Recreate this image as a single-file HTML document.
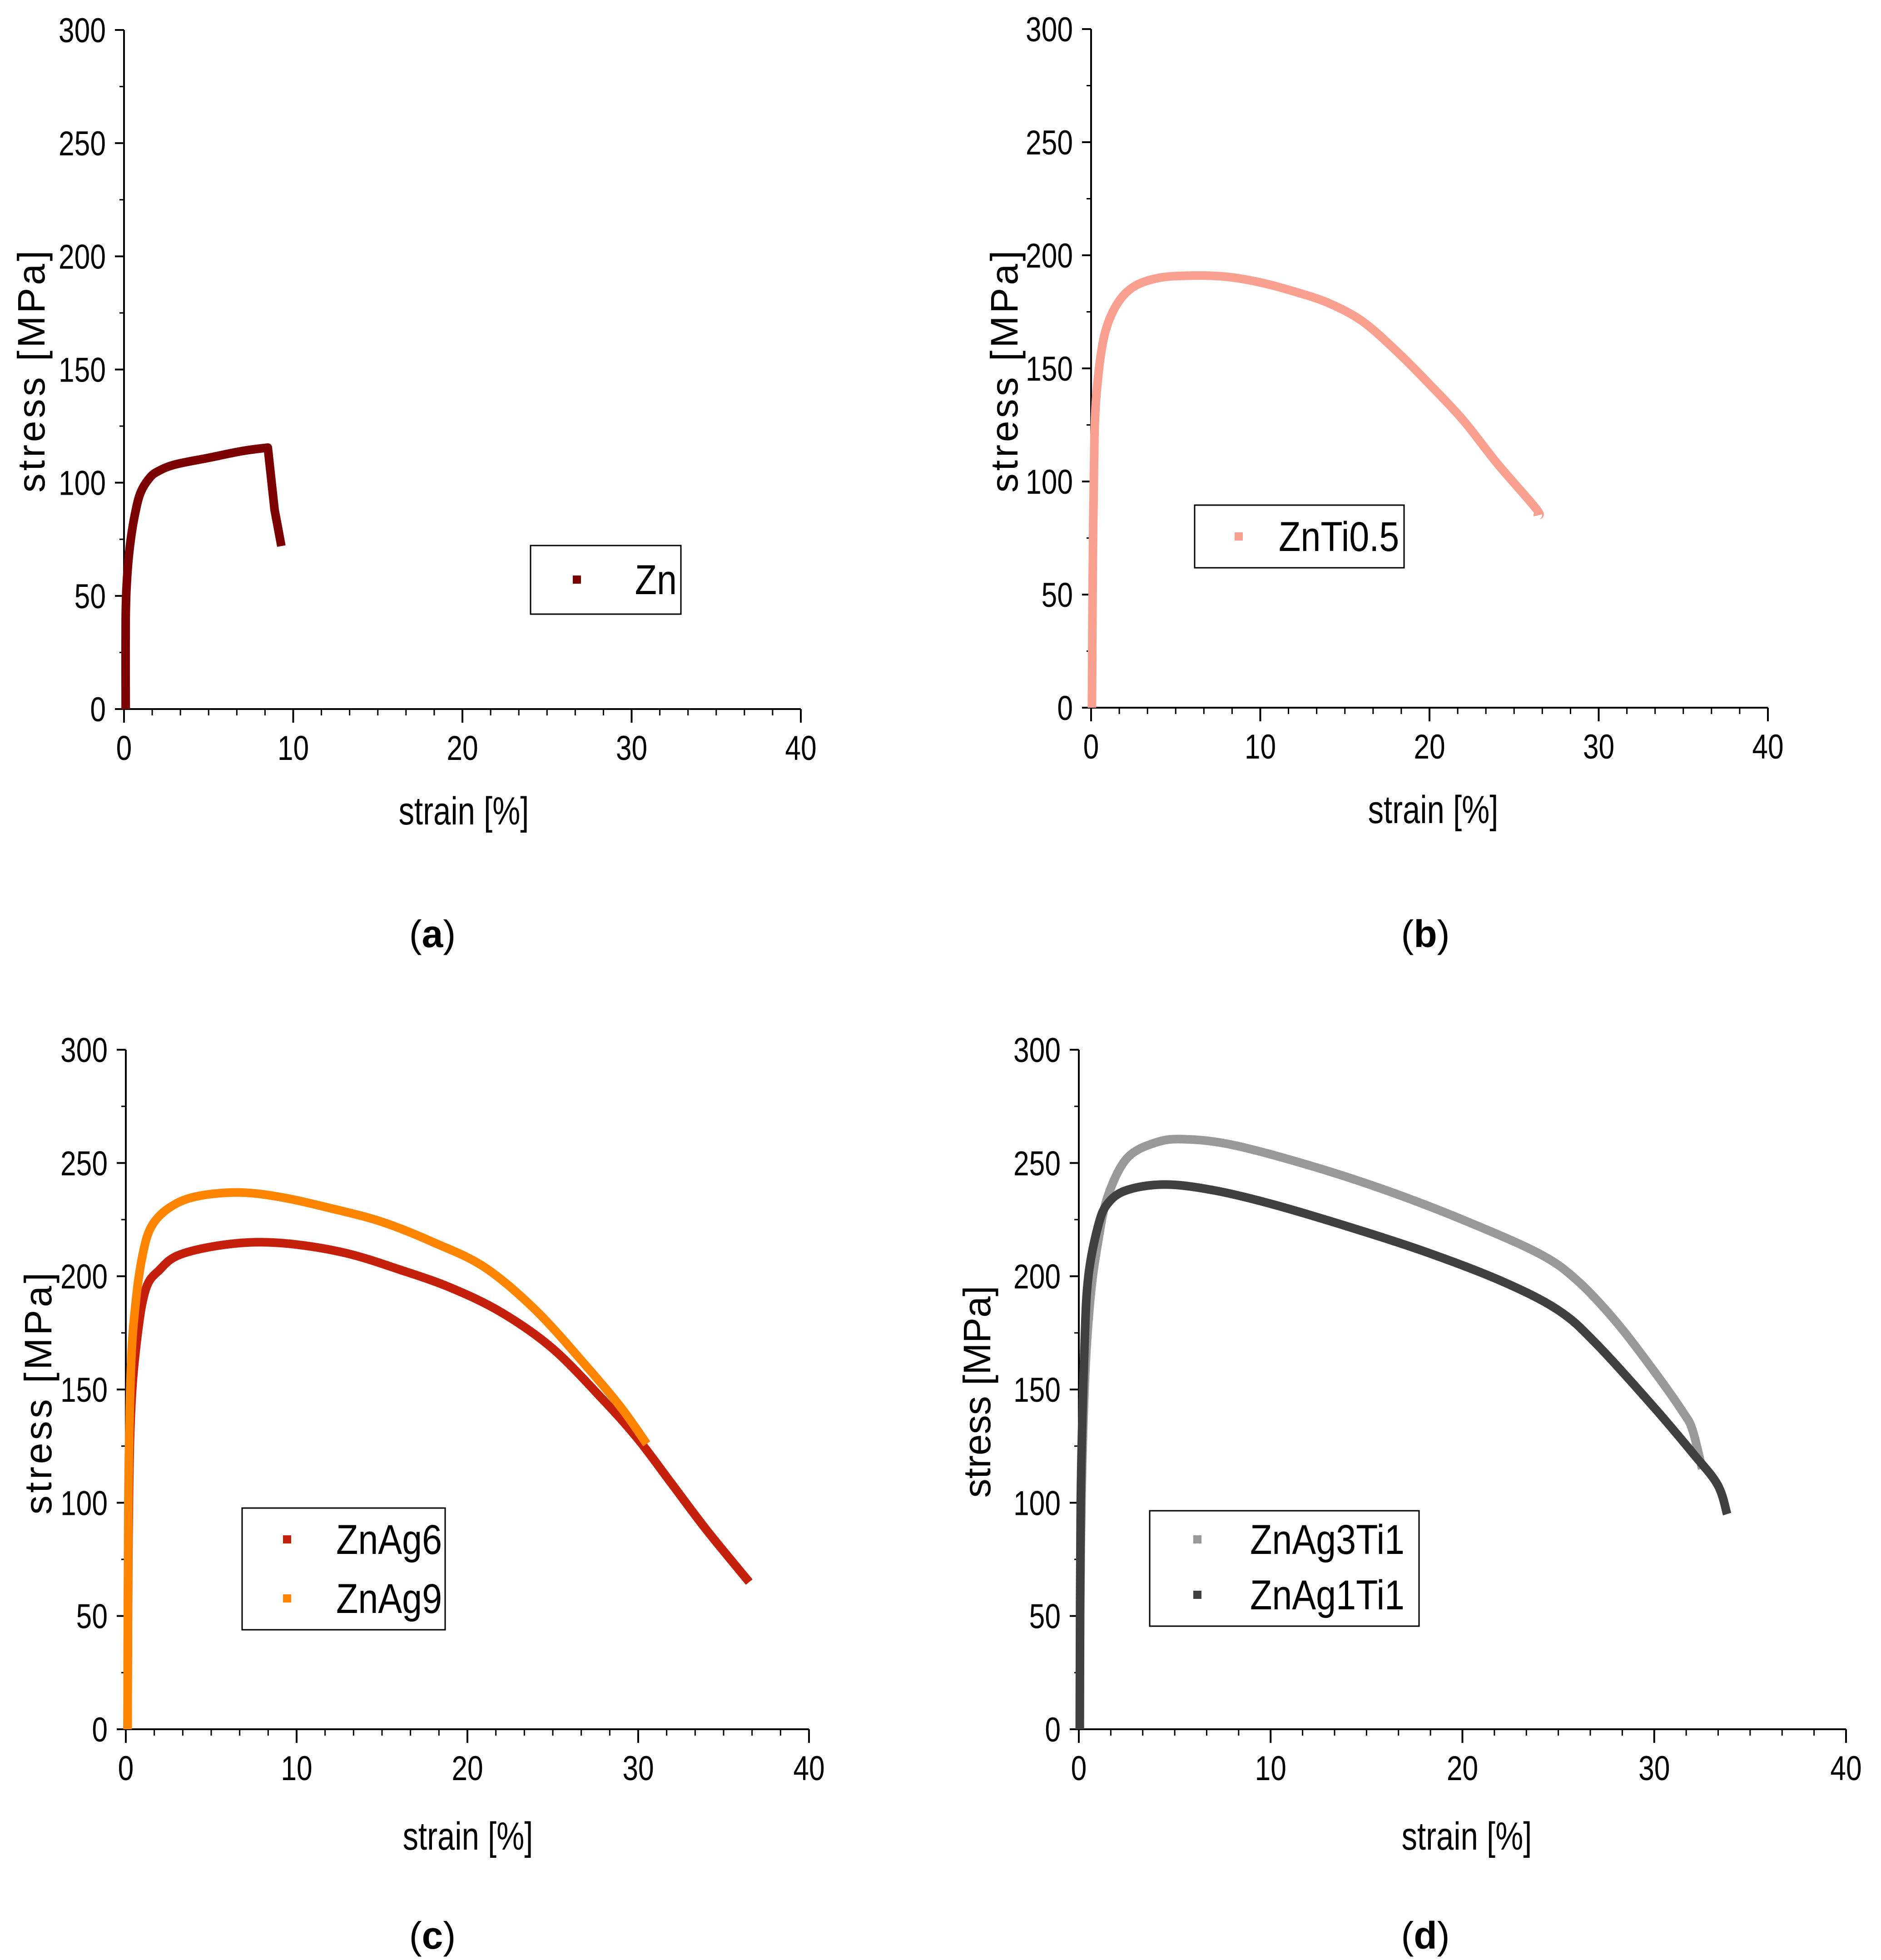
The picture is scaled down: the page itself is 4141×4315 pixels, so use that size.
<!DOCTYPE html>
<html><head><meta charset="utf-8"><style>
html,body{margin:0;padding:0;background:#fff;}
svg{display:block;}
text{font-family:"Liberation Sans",sans-serif;fill:#000;}
</style></head>
<body>
<svg id="fig" width="4141" height="4315" viewBox="0 0 4141 4315" xmlns="http://www.w3.org/2000/svg"></svg>
<script>
// ---- data ----
const xTicks = [0, 10, 20, 30, 40];
const yTicks = [0, 50, 100, 150, 200, 250, 300];

const znStrain = [0.1,0.1,0.2,0.4,0.7,1,1.5,2,3,5,7,8.5,8.9,9.1,9.3];
const znStress = [0,40,60,75,88,96,102,105,108,111,114,115.5,88,80,72];

const znTiStrain = [0.05,0.1,0.2,0.4,0.8,1.5,2.5,4,6,8,10,12,14,16,18,20,22,24,26.3,26.4];
const znTiStress = [0,60,120,145,165,178,186,190,191,190.5,188,184,179,171,158,143,127,108,88,85];

const znAg6Strain = [0.1,0.15,0.3,0.7,1.2,2,3,5,7.5,10,13,16,19,22,25,28,30,32,34,36.5];
const znAg6Stress = [0,80,140,175,195,203,209,213,215,214,210,203,195,184,168,145,128,108,88,65];

const znAg9Strain = [0.1,0.15,0.3,0.6,1,1.5,2.5,4,6.5,9,12,15,18,21,24,27,29,30.5];
const znAg9Stress = [0,100,160,190,210,222,230,235,237,235,230,224,215,204,185,160,142,126];

const znAg3Ti1Strain = [0.05,0.1,0.3,0.6,1,1.5,2.5,4,5.5,8,12,16,20,24,26,28,30,31.5,32,32.5];
const znAg3Ti1Stress = [0,80,150,190,215,235,252,259,260.5,258,249,238,225,210,198,180,158,140,132,115];

const znAg1Ti1Strain = [0.05,0.1,0.3,0.5,1,1.5,2.5,4.5,7,10,14,18,22,25,27,30,32,33.3,33.8];
const znAg1Ti1Stress = [0,100,170,200,222,232,238,240.5,238,232,222,211,198,185,170,142,122,108,95];

const NS = "http://www.w3.org/2000/svg";
const svg = document.getElementById('fig');
function el(tag, attrs, parent){
  const e = document.createElementNS(NS, tag);
  for (const k in attrs) e.setAttribute(k, attrs[k]);
  (parent||svg).appendChild(e);
  return e;
}
function txt(str, attrs, parent){ const t = el('text', attrs, parent); t.textContent = str; return t; }

function smoothPath(pts, breakAt){
  const n = (breakAt === undefined) ? pts.length : breakAt + 1;
  const sp = pts.slice(0, n);
  let d = 'M' + sp[0][0].toFixed(1) + ' ' + sp[0][1].toFixed(1);
  for (let i = 0; i < sp.length-1; i++){
    const p0 = sp[Math.max(0,i-1)], p1 = sp[i], p2 = sp[i+1], p3 = sp[Math.min(sp.length-1,i+2)];
    const c1x = p1[0] + (p2[0]-p0[0])/6, c1y = p1[1] + (p2[1]-p0[1])/6;
    const c2x = p2[0] - (p3[0]-p1[0])/6, c2y = p2[1] - (p3[1]-p1[1])/6;
    d += `C${c1x.toFixed(1)} ${c1y.toFixed(1)} ${c2x.toFixed(1)} ${c2y.toFixed(1)} ${p2[0].toFixed(1)} ${p2[1].toFixed(1)}`;
  }
  for (let i = n; i < pts.length; i++){
    d += 'L' + pts[i][0].toFixed(1) + ' ' + pts[i][1].toFixed(1);
  }
  return d;
}

function panel(cfg){
  const g = el('g', {});
  
  
  const sx = v => cfg.x0 + (v/40)*(cfg.x40-cfg.x0);
  const sy = v => cfg.y0 - (v/300)*(cfg.y0-cfg.yTop);
  const ax = el('path', {d:`M${cfg.x0} ${cfg.yTop}V${cfg.y0}H${cfg.x40}`, stroke:'#000','stroke-width':4, fill:'none'}, g);
  
  
  for (let v = 0; v <= 40.001; v += 10/6){
    el('line',{x1:sx(v),x2:sx(v),y1:cfg.y0,y2:cfg.y0+14,stroke:'#000','stroke-width':3},g);
  }
  xTicks.forEach(v=>{
    el('line',{x1:sx(v),x2:sx(v),y1:cfg.y0,y2:cfg.y0+30,stroke:'#000','stroke-width':4},g);
    const t = txt(String(v),{x:sx(v),y:cfg.y0+112,'font-size':76,'text-anchor':'middle',transform:`translate(${sx(v)},0) scale(0.82,1) translate(${-sx(v)},0)`},g);
    
    
  });
  for (let v = 25; v < 300; v += 50){
    el('line',{x1:cfg.x0-10,x2:cfg.x0,y1:sy(v),y2:sy(v),stroke:'#000','stroke-width':3},g);
  }
  yTicks.forEach(v=>{
    el('line',{x1:cfg.x0-20,x2:cfg.x0,y1:sy(v),y2:sy(v),stroke:'#000','stroke-width':4},g);
    const lx = cfg.x0-40;
    const t = txt(String(v),{x:lx,y:sy(v)+27,'font-size':76,'text-anchor':'end',transform:`translate(${lx},0) scale(0.82,1) translate(${-lx},0)`},g);
    
    
  });
  const xt = txt('strain [%]',{x:cfg.xtX,y:cfg.xtY,'font-size':86,'text-anchor':'middle',transform:`translate(${cfg.xtX},0) scale(0.8,1) translate(${-cfg.xtX},0)`},g);
  
  
  const yt = txt('stress [MPa]',{x:0,y:0,'font-size':84,'text-anchor':'middle','letter-spacing':cfg.ls,transform:`translate(${cfg.ytX},${cfg.ytY}) rotate(-90)`},g);
  
  
  cfg.series.forEach(s=>{
    const pts = s.x.map((xv,i)=>[sx(xv), sy(s.y[i])]);
    const p = el('path',{d:smoothPath(pts, s.breakAt),stroke:s.color,'stroke-width':19,fill:'none','stroke-linejoin':'round','stroke-linecap':'butt'},g);
    
    
  });
  const lg = el('g',{},g);
  
  
  const L = cfg.legend;
  el('rect',{x:L.x,y:L.y,width:L.w,height:L.h,fill:'#fff',stroke:'#000','stroke-width':3},lg);
  cfg.series.forEach((s,i)=>{
    const my = L.my[i];
    el('rect',{x:L.mx-9,y:my-9,width:18,height:18,fill:s.color},lg);
    const t = txt(s.name,{x:L.tx,y:my+32,'font-size':92,'text-anchor':L.anchor||'start',transform:`translate(${L.tx},0) scale(0.86,1) translate(${-L.tx},0)`},lg);
    
    
  });
  const c = el('text',{x:cfg.capX,y:cfg.capY,'font-size':84,'text-anchor':'middle','font-family':'Liberation Serif, serif'},g);
  
  
  c.innerHTML = '(<tspan font-weight="bold">' + cfg.id + '</tspan>)';
}

panel({id:'a',x0:273,x40:1763,y0:1561,yTop:66,xtX:1021,xtY:1815,ytX:98,ytY:815,ls:6,capX:952,capY:2085,
  series:[{name:'Zn',color:'#7b0000',x:znStrain,y:znStress,breakAt:11}],
  legend:{x:1168,y:1201,w:331,h:151,mx:1270,my:[1276],tx:1490,anchor:'end'}});
panel({id:'b',x0:2402,x40:3892,y0:1558,yTop:64,xtX:3155,xtY:1812,ytX:2240,ytY:815,ls:6,capX:3138,capY:2085,
  series:[{name:'ZnTi0.5',color:'#f9a090',x:znTiStrain,y:znTiStress}],
  legend:{x:2630,y:1112,w:461,h:138,mx:2727,my:[1181],tx:2815}});
panel({id:'c',x0:277,x40:1781,y0:3807,yTop:2311,xtX:1030,xtY:4072,ytX:113,ytY:3065,ls:6,capX:952,capY:4290,
  series:[{name:'ZnAg6',color:'#c4200c',x:znAg6Strain,y:znAg6Stress},{name:'ZnAg9',color:'#ff8400',x:znAg9Strain,y:znAg9Stress}],
  legend:{x:533,y:3320,w:447,h:268,mx:632,my:[3389,3519],tx:740}});
panel({id:'d',x0:2375,x40:4064,y0:3807,yTop:2311,xtX:3229,xtY:4072,ytX:2180,ytY:3064,ls:0,capX:3138,capY:4290,
  series:[{name:'ZnAg3Ti1',color:'#999999',x:znAg3Ti1Strain,y:znAg3Ti1Stress},{name:'ZnAg1Ti1',color:'#404040',x:znAg1Ti1Strain,y:znAg1Ti1Stress}],
  legend:{x:2531,y:3326,w:593,h:254,mx:2636,my:[3389,3511],tx:2752}});
</script>
</body></html>
